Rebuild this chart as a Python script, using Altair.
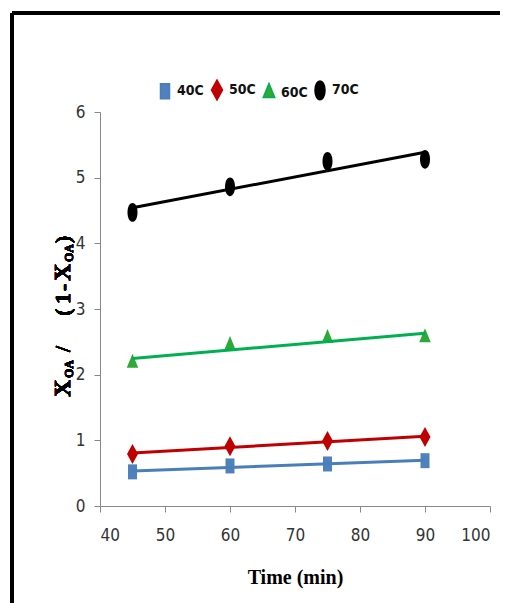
import altair as alt
import pandas as pd

# ---- data ----
time_min = [45, 60, 75, 90]
series_names = ["40C", "50C", "60C", "70C"]
y_40C = [0.52, 0.61, 0.64, 0.69]
y_50C = [0.79, 0.91, 0.99, 1.05]
y_60C = [2.18, 2.45, 2.56, 2.57]
y_70C = [4.47, 4.86, 5.25, 5.28]
x_ticks = [40, 50, 60, 70, 80, 90, 100]
y_ticks = [0, 1, 2, 3, 4, 5, 6]

rows = []
for name, vals in zip(series_names, [y_40C, y_50C, y_60C, y_70C]):
    for t, v in zip(time_min, vals):
        rows.append({"Time": t, "Value": v, "Series": name})
df = pd.DataFrame(rows)

marker_colors = ["#4F81BD", "#C00000", "#2EA836", "#000000"]
line_colors = ["#4A7EBB", "#C00000", "#00B050", "#000000"]
shapes = [
    "M-0.9,-1.5 H0.9 V1.5 H-0.9 Z",
    "M0,-2 L1.1,0 L0,2 L-1.1,0 Z",
    "M0,-1.8 L1.15,1.0 L-1.15,1.0 Z",
    "M-1,0 C-1,-2.5 1,-2.5 1,0 C1,2.5 -1,2.5 -1,0 Z",
]

W, H = 390, 394
label_font = "Liberation Sans Narrow, DejaVu Sans Condensed, Arial Narrow, sans-serif"
serif = "Liberation Serif, Times New Roman, serif"

xs = alt.Scale(domain=[40, 100], nice=False)
ys = alt.Scale(domain=[0, 6], nice=False)

base = alt.Chart(df)

lines = base.transform_regression(
    "Time", "Value", groupby=["Series"]
).transform_calculate(
    Fit="datum.Series"
).mark_line(strokeWidth=3, clip=False).encode(
    x=alt.X("Time:Q", scale=xs,
            axis=alt.Axis(values=x_ticks, format="d", title="Time (min)", grid=False,
                          domainColor="#888888", tickColor="#888888", tickSize=6,
                          labelFont=label_font, labelFontSize=17, labelColor="#333333",
                          labelPadding=15, titleFont=serif, titleFontSize=20,
                          titleFontWeight="bold", titleColor="#000000", titlePadding=24)),
    y=alt.Y("Value:Q", scale=ys,
            axis=alt.Axis(values=y_ticks, format="d", title=None, grid=False,
                          domainColor="#888888", tickColor="#888888", tickSize=6,
                          labelFont=label_font, labelFontSize=17, labelColor="#333333",
                          labelPadding=9)),
    stroke=alt.Stroke("Fit:N", scale=alt.Scale(domain=series_names, range=line_colors),
                      legend=None),
)

legend_spec = alt.Legend(title=None, orient="none", direction="horizontal",
                         legendX=58, legendY=-29, padding=0, symbolSize=100,
                         labelFont=label_font, labelFontSize=14,
                         labelFontWeight="bold", labelColor="#111111",
                         columnPadding=4, labelOffset=5)

points = base.mark_point(filled=True, size=100, opacity=1, clip=False).encode(
    x=alt.X("Time:Q", scale=xs),
    y=alt.Y("Value:Q", scale=ys),
    color=alt.Color("Series:N", scale=alt.Scale(domain=series_names, range=marker_colors),
                    legend=legend_spec),
    shape=alt.Shape("Series:N", scale=alt.Scale(domain=series_names, range=shapes)),
)

# y-axis title with subscripts, built from rotated text pieces
def piece(text, size, y_start, x_base):
    return alt.Chart(df).mark_text(
        text=text, angle=270, align="left", baseline="alphabetic",
        font=serif, fontSize=size, fontWeight="bold", color="#000000"
    ).encode(x=alt.value(x_base), y=alt.value(y_start))

title_parts = [
    piece("X", 24, 285, -30),
    piece("OA", 12, 266, -27),
    piece("/", 22, 240, -30),
    piece("(", 22, 204, -30),
    piece("1", 22, 192, -30),
    piece("-", 22, 179, -30),
    piece("X", 24, 169, -30),
    piece("OA", 12, 150, -27),
    piece(")", 22, 131, -30),
]

# outer frame (only top and left edges visible in the reference)
frame_left = alt.Chart(df).mark_rule(color="#000000", strokeWidth=2.5).encode(
    x=alt.value(-88), y=alt.value(-99), y2=alt.value(520))
frame_top = alt.Chart(df).mark_rule(color="#000000", strokeWidth=2.5).encode(
    x=alt.value(-88), x2=alt.value(430), y=alt.value(-99))

chart = alt.layer(points, lines, *title_parts, frame_left, frame_top).properties(
    width=W, height=H,
    autosize=alt.AutoSizeParams(type="none"),
    padding={"left": 92, "top": 104, "right": 10, "bottom": 97},
).configure_view(stroke=None)

chart.save("out.html", embed_options={"renderer": "svg", "actions": False})
